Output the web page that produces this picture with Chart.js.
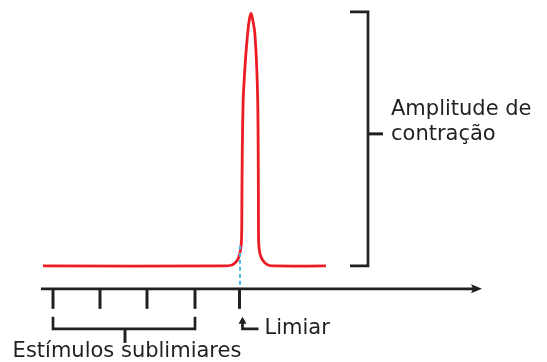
<!DOCTYPE html>
<html lang="pt">
<head>
  <meta charset="UTF-8" />
  <title>Contração muscular</title>
  <script src="https://cdn.jsdelivr.net/npm/chart.js"></script>
  <style>
    html, body { margin: 0; padding: 0; background: #fff; }
    canvas { display: block; }
  </style>
</head>
<body>
  <canvas id="grafico" width="547" height="362"></canvas>

  <script>
    // tempo (unidades arbitrárias) e amplitude da contração (% do máximo)
    const tempo = [43, 224, 232, 236, 238.5, 240.5, 241.5, 241.9, 242.3, 243.2, 244.3, 245.8, 247.7, 249.3, 251, 252.7, 254.8, 256.7, 257.7, 258.2, 258.4, 258.6, 259.3, 261, 264, 268, 274, 326];
    const amplitude = [0, 0, 0.4, 1.6, 3.1, 6.3, 10.2, 26, 45.7, 65.4, 74, 83, 91.7, 96.9, 99.4, 96.9, 91.7, 78.3, 65.4, 45.7, 26, 10.2, 6.3, 3.5, 1.6, 0.4, 0, 0];

    // instantes dos estímulos
    const estimulos = [53, 100, 147, 195];
    const limiar = 239.5;

    const rotulos = {
      amplitude: ['Amplitude de', 'contração'],
      sublimiares: 'Estímulos sublimiares',
      limiar: 'Limiar'
    };

    const preto = '#231f20';
    const fonte = '21px "DejaVu Sans", Verdana, sans-serif';

    // eixo, marcas dos estímulos, chaves e textos
    const desenho = {
      id: 'desenho',
      afterDatasetsDraw(chart) {
        const { ctx, scales: { x, y } } = chart;
        const px = v => x.getPixelForValue(v);
        const py = v => y.getPixelForValue(v);
        const eixo = py(-9);

        ctx.save();
        ctx.strokeStyle = preto;
        ctx.fillStyle = preto;
        ctx.lineCap = 'butt';

        // linha tracejada azul do limiar
        ctx.beginPath();
        ctx.setLineDash([4, 3]);
        ctx.strokeStyle = '#4ab8e8';
        ctx.lineWidth = 2;
        ctx.moveTo(px(limiar) + 0.5, py(8));
        ctx.lineTo(px(limiar) + 0.5, eixo);
        ctx.stroke();
        ctx.setLineDash([]);
        ctx.strokeStyle = preto;

        // eixo do tempo com seta
        ctx.lineWidth = 2.7;
        ctx.beginPath();
        ctx.moveTo(px(41), eixo);
        ctx.lineTo(px(474), eixo);
        ctx.stroke();
        ctx.beginPath();
        ctx.moveTo(px(482), eixo);
        ctx.lineTo(px(471), eixo - 4.5);
        ctx.lineTo(px(473), eixo);
        ctx.lineTo(px(471), eixo + 4.5);
        ctx.closePath();
        ctx.fill();

        // marcas dos estímulos
        ctx.lineWidth = 3;
        [...estimulos, limiar].forEach(t => {
          ctx.beginPath();
          ctx.moveTo(px(t), eixo);
          ctx.lineTo(px(t), eixo + 20);
          ctx.stroke();
        });

        // chave dos estímulos sublimiares
        const e0 = px(estimulos[0]), e1 = px(estimulos[estimulos.length - 1]);
        const chaveY = eixo + 40;
        ctx.lineWidth = 2.7;
        ctx.beginPath();
        ctx.moveTo(e0, eixo + 28);
        ctx.lineTo(e0, chaveY);
        ctx.lineTo(e1, chaveY);
        ctx.lineTo(e1, eixo + 28);
        ctx.stroke();
        ctx.lineWidth = 3;
        ctx.beginPath();
        ctx.moveTo((e0 + e1) / 2 + 1, chaveY);
        ctx.lineTo((e0 + e1) / 2 + 1, chaveY + 14);
        ctx.stroke();

        // seta do limiar
        const lx = px(limiar) + 3;
        ctx.lineWidth = 2.7;
        ctx.beginPath();
        ctx.moveTo(lx, eixo + 34);
        ctx.lineTo(lx, chaveY);
        ctx.lineTo(lx + 16, chaveY);
        ctx.stroke();
        ctx.beginPath();
        ctx.moveTo(lx, eixo + 28);
        ctx.lineTo(lx - 4, eixo + 35);
        ctx.lineTo(lx + 4, eixo + 35);
        ctx.closePath();
        ctx.fill();

        // chave da amplitude
        const bx = px(368);
        const topo = py(100), base = py(0);
        ctx.lineWidth = 2.7;
        ctx.beginPath();
        ctx.moveTo(bx - 18, topo);
        ctx.lineTo(bx, topo);
        ctx.lineTo(bx, base);
        ctx.lineTo(bx - 18, base);
        ctx.stroke();
        const meio = py(52);
        ctx.lineWidth = 3;
        ctx.beginPath();
        ctx.moveTo(bx, meio);
        ctx.lineTo(bx + 15, meio);
        ctx.stroke();

        // textos
        ctx.font = fonte;
        ctx.fillStyle = preto;
        ctx.textBaseline = 'alphabetic';
        ctx.textAlign = 'left';
        ctx.fillText(rotulos.amplitude[0], bx + 23, meio - 19);
        ctx.fillText(rotulos.amplitude[1], bx + 23, meio + 6);
        ctx.fillText(rotulos.limiar, lx + 22, chaveY + 5);
        ctx.textAlign = 'center';
        ctx.fillText(rotulos.sublimiares, (e0 + e1) / 2 + 3, chaveY + 28);

        ctx.restore();
      }
    };

    new Chart(document.getElementById('grafico'), {
      type: 'line',
      data: {
        datasets: [{
          data: tempo.map((t, i) => ({ x: t, y: amplitude[i] })),
          borderColor: '#ed1c24',
          borderWidth: 2.8,
          pointRadius: 0,
          tension: 0.4,
          fill: false
        }]
      },
      options: {
        responsive: false,
        animation: false,
        layout: { padding: 0 },
        scales: {
          x: { type: 'linear', min: 0, max: 547, display: false },
          y: { min: -37.8, max: 104.7, display: false }
        },
        plugins: {
          legend: { display: false },
          tooltip: { enabled: false }
        }
      },
      plugins: [desenho]
    });
  </script>
</body>
</html>
